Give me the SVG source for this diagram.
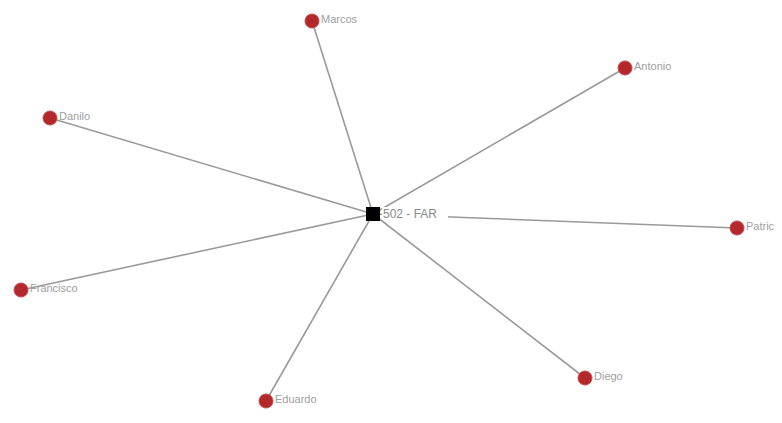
<svg xmlns="http://www.w3.org/2000/svg" width="782" height="423" viewBox="0 0 782 423">
<style>
.edge{stroke:#9a9a9a;stroke-width:1.6;fill:none}
.dot{fill:#b3282a;stroke:#c84a4a;stroke-width:1}
.lbl{font-family:"Liberation Sans",Arial,sans-serif;font-size:11px;fill:#a0a0a0;dominant-baseline:central}
.hub{fill:#000}
.hlbl{font-family:"Liberation Sans",Arial,sans-serif;font-size:12px;fill:#8a8a8a;dominant-baseline:central}
</style>
<rect width="782" height="423" fill="#fff"/>
<g id="connectors">
<line class="edge" x1="373" y1="214" x2="312" y2="21"/>
<line class="edge" x1="373" y1="214" x2="625" y2="68"/>
<line class="edge" x1="373" y1="214" x2="50" y2="118"/>
<line class="edge" x1="373" y1="214" x2="737" y2="228"/>
<line class="edge" x1="373" y1="214" x2="21" y2="290"/>
<line class="edge" x1="373" y1="214" x2="266" y2="401"/>
<line class="edge" x1="373" y1="214" x2="585" y2="378"/>
</g>
<g id="hub"><rect class="hub" x="366" y="207" width="14" height="14"/><rect x="382" y="207" width="66" height="13" fill="#fff"/><text class="hlbl" x="383" y="214">502 - FAR</text></g>
<g id="marcos"><circle class="dot" cx="312" cy="21" r="7"/><text class="lbl" x="321" y="19">Marcos</text></g>
<g id="antonio"><circle class="dot" cx="625" cy="68" r="7"/><text class="lbl" x="634" y="66">Antonio</text></g>
<g id="danilo"><circle class="dot" cx="50" cy="118" r="7"/><text class="lbl" x="59" y="116">Danilo</text></g>
<g id="patric"><circle class="dot" cx="737" cy="228" r="7"/><text class="lbl" x="746" y="226">Patric</text></g>
<g id="francisco"><circle class="dot" cx="21" cy="290" r="7"/><text class="lbl" x="30" y="288">Francisco</text></g>
<g id="eduardo"><circle class="dot" cx="266" cy="401" r="7"/><text class="lbl" x="275" y="399">Eduardo</text></g>
<g id="diego"><circle class="dot" cx="585" cy="378" r="7"/><text class="lbl" x="594" y="376">Diego</text></g>
</svg>
